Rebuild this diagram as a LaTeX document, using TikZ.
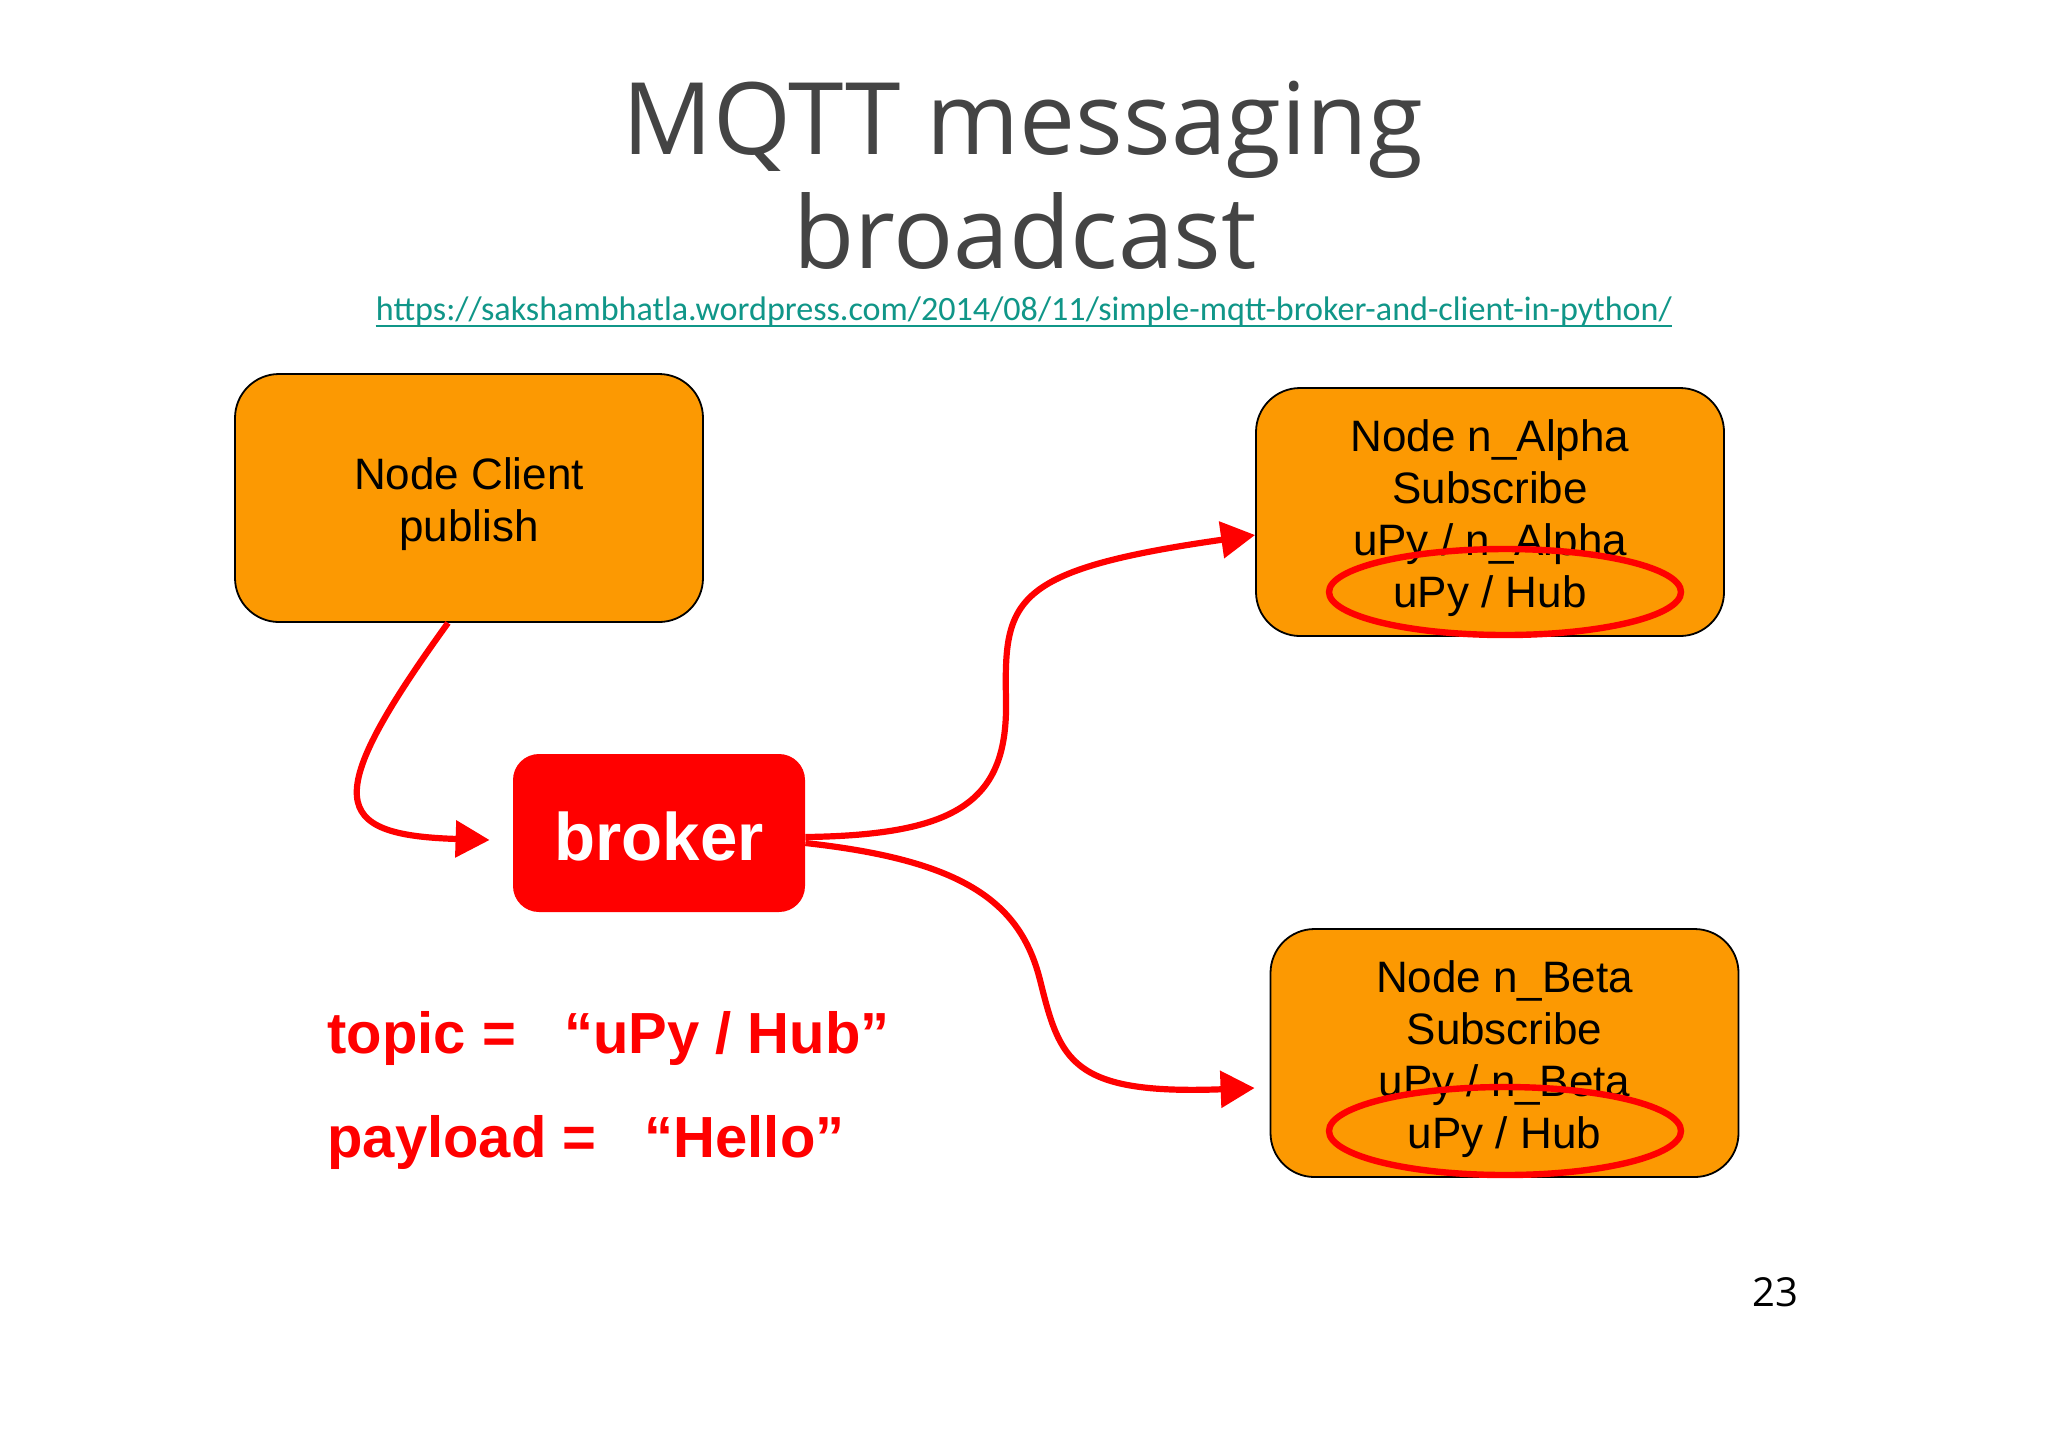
\documentclass[tikz,border=0pt]{standalone}
\usepackage{fontspec}
\setmainfont{Liberation Sans}
\newfontfamily\titlefont{Open Sans}
\newfontfamily\urlfont{Carlito}
\usetikzlibrary{arrows.meta}
\definecolor{boxorange}{RGB}{252,153,2}
\definecolor{mqred}{RGB}{255,0,0}
\definecolor{titlegray}{RGB}{68,68,68}
\definecolor{urlteal}{RGB}{16,150,136}
\newcommand{\boxlines}[1]{\raisebox{0pt}[\dimexpr\height+6.6pt\relax][\depth]{\begin{tabular}{@{}c@{}}#1\end{tabular}}}
\tikzset{
  nodebox/.style={draw=black, line width=0.9pt, fill=boxorange, rounded corners=22pt,
    minimum width=234pt, minimum height=124pt, align=center, inner sep=0pt,
    font=\fontsize{22}{26}\selectfont},
  brokerbox/.style={fill=mqred, rounded corners=13pt, minimum width=146pt, minimum height=79pt,
    inner sep=0pt, text=white, font=\fontsize{33.6}{36}\selectfont\bfseries},
  flow/.style={draw=mqred, line width=3.1pt, -{Triangle[length=17pt,width=18pt]}},
  hilite/.style={draw=mqred, line width=3.2pt},
  redtext/.style={text=mqred, anchor=base west, inner sep=0pt, font=\fontsize{29}{32}\selectfont\bfseries}
}
\begin{document}
\begin{tikzpicture}[x=0.5pt,y=-0.5pt]
\useasboundingbox[fill=white] (0,0) rectangle (2048,1447);
% title
\node[anchor=base, inner sep=0pt, text=titlegray, font=\fontsize{50}{60}\selectfont\titlefont] (t1) at (1023,154) {MQTT messaging};
\node[anchor=base, inner sep=0pt, text=titlegray, font=\fontsize{50}{60}\selectfont\titlefont] (t2) at (1025,268) {broadcast};
\node[anchor=base, inner sep=0pt, text=urlteal, font=\fontsize{17.05}{20}\selectfont\urlfont] (url) at (1024,320) {https://sakshambhatla.wordpress.com/2014/08/11/simple-mqtt-broker-and-client-in-python/};
\draw[urlteal, line width=0.8pt] ([yshift=-3pt]url.base west) -- ([yshift=-3pt]url.base east);
% boxes
\node[nodebox] (client) at (469,498) {\boxlines{Node Client\\publish}};
\node[brokerbox] (broker) at (659,833) {\raisebox{0pt}[\dimexpr\height+3pt\relax][\depth]{broker}};
\node[nodebox] (alpha) at (1490,512) {\boxlines{Node n\_Alpha\\Subscribe\\uPy / n\_Alpha\\uPy / Hub}};
\node[nodebox] (beta) at (1504.5,1053) {\boxlines{Node n\_Beta\\Subscribe\\uPy / n\_Beta\\uPy / Hub}};
% highlight ellipses
\draw[hilite] (1505,592) ellipse [x radius=176, y radius=43];
\draw[hilite] (1505,1131) ellipse [x radius=176, y radius=44];
% connectors
\draw[flow] ([xshift=-10.5pt]client.south) .. controls (320,800) and (330,835) .. ([xshift=-11.5pt,yshift=-3.5pt]broker.west);
\draw[flow] ([yshift=-2pt]broker.east) .. controls (960,835) and (1008,800) .. (1006,700)
   .. controls (1004,600) and (1010,570) .. ([yshift=-11.5pt]alpha.west);
\draw[flow] ([yshift=-5pt]broker.east) .. controls (960,860) and (1020,900) .. (1040,980)
   .. controls (1060,1060) and (1070,1095) .. ([xshift=-7.5pt,yshift=-17.5pt]beta.west);
% labels
\node[redtext] (topic) at (327,1053) {topic =\hspace{16pt} “uPy / Hub”};
\node[redtext] (payload) at (327,1157) {payload =\hspace{16pt} “Hello”};
\node[anchor=base, inner sep=0pt, text=black, font=\fontsize{20}{24}\selectfont\titlefont] (page) at (1775,1306) {23};
\end{tikzpicture}
\end{document}
